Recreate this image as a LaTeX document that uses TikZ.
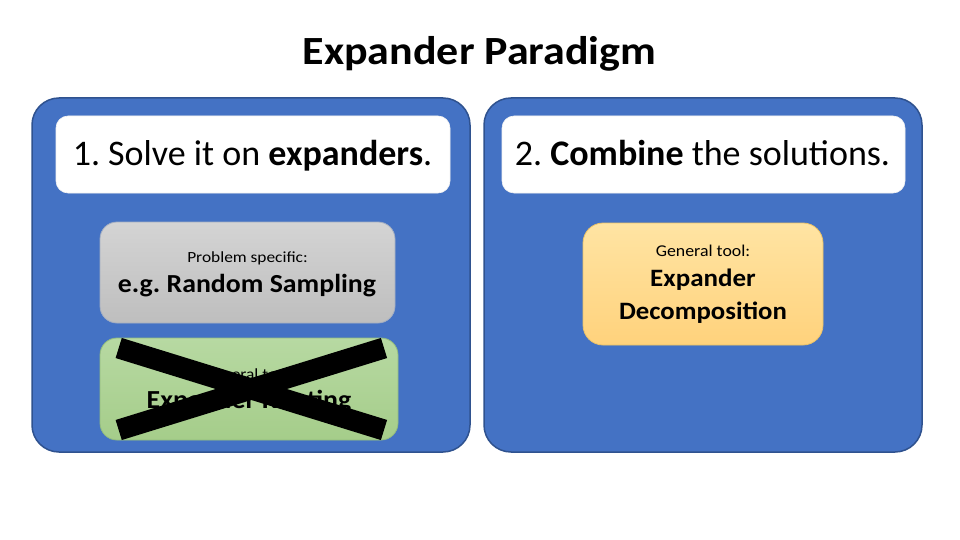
\documentclass[tikz,border=0pt]{standalone}
\usepackage{fontspec}
\setmainfont{Carlito}
\frenchspacing
\newcommand{\hstretch}[2]{\scalebox{#1}[1]{#2}}
\definecolor{panelblue}{HTML}{4472C4}
\definecolor{panelborder}{HTML}{2F528F}
\definecolor{graytop}{HTML}{D4D4D4}
\definecolor{graybot}{HTML}{BEBEBE}
\definecolor{grayborder}{HTML}{A3AEC2}
\definecolor{greentop}{HTML}{B7D9A2}
\definecolor{greenbot}{HTML}{A5CD8A}
\definecolor{greenborder}{HTML}{93BC7E}
\definecolor{orangetop}{HTML}{FFE4A3}
\definecolor{orangebot}{HTML}{FFD27C}
\definecolor{orangeborder}{HTML}{EBC268}
\tikzset{
  panel/.style={draw=panelborder, line width=1.5pt, fill=panelblue, rounded corners=27pt},
  headbox/.style={draw=white!90!gray, line width=0.6pt, fill=white, rounded corners=12pt},
  graybox/.style={draw=grayborder, line width=0.8pt, top color=graytop, bottom color=graybot, rounded corners=17pt},
  greenbox/.style={draw=greenborder, line width=0.8pt, top color=greentop, bottom color=greenbot, rounded corners=17pt},
  orangebox/.style={draw=orangeborder, line width=0.8pt, top color=orangetop, bottom color=orangebot, rounded corners=20pt},
  txt/.style={anchor=base, inner sep=0pt, text=black},
  crossline/.style={line width=21pt, line cap=butt, draw=black}
}
\begin{document}
\begin{tikzpicture}[x=1pt,y=-1pt]
\useasboundingbox[fill=white] (0,0) rectangle (960,540);
% title
\node[txt, font=\bfseries\fontsize{40}{48}\selectfont] (title) at (479.5,65) {\hstretch{1.10}{Expander Paradigm}};
% panels
\draw[panel] (32,98) rectangle (470,452);
\draw[panel] (484,98) rectangle (922,452);
% header boxes
\draw[headbox] (56,116) rectangle (450,193);
\draw[headbox] (502,116) rectangle (905,193);
\node[txt, font=\fontsize{36}{43}\selectfont] (h1) at (252.5,165) {1. Solve it on \textbf{expanders}.};
\node[txt, font=\fontsize{36}{43}\selectfont] (h2) at (702.5,165) {2. \textbf{Combine} the solutions.};
% gray box
\draw[graybox] (100,222) rectangle (395,323);
\node[txt, font=\fontsize{15.5}{18}\selectfont] (g1) at (247.5,262) {\hstretch{1.12}{Problem specific:}};
\node[txt, font=\bfseries\fontsize{26}{31}\selectfont] (g2) at (247,292) {\hstretch{1.07}{e.g. Random Sampling}};
% green box
\draw[greenbox] (100,338) rectangle (398,440);
\node[txt, font=\fontsize{15.5}{18}\selectfont] (r1) at (249,379) {\hstretch{1.12}{General tool:}};
\node[txt, font=\bfseries\fontsize{26}{31}\selectfont] (r2) at (249,408) {\hstretch{1.07}{Expander Routing}};
% cross
\coordinate (xa) at (118.7,348);
\coordinate (xb) at (384,430);
\coordinate (xc) at (384,348);
\coordinate (xd) at (118.7,430);
\draw[crossline] (xa) -- (xb);
\draw[crossline] (xc) -- (xd);
% orange box
\draw[orangebox] (583,223) rectangle (823,345);
\node[txt, font=\fontsize{16.5}{20}\selectfont] (o1) at (703,256.5) {\hstretch{1.08}{General tool:}};
\node[txt, font=\bfseries\fontsize{25}{30}\selectfont] (o2) at (703,286) {\hstretch{1.08}{Expander}};
\node[txt, font=\bfseries\fontsize{25}{30}\selectfont] (o3) at (703,319.3) {\hstretch{1.07}{Decomposition}};
\end{tikzpicture}
\end{document}
